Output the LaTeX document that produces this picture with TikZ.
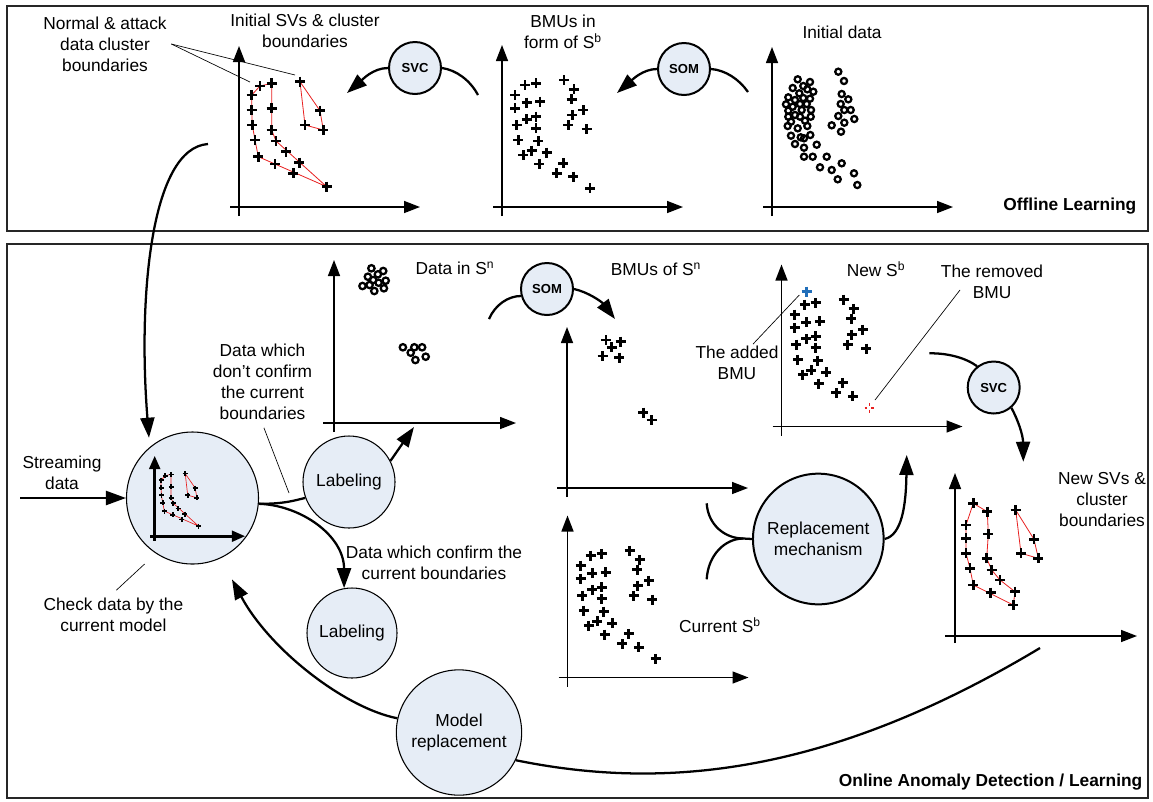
\documentclass[tikz,border=0pt]{standalone}
\usepackage{fontspec}
\setmainfont{Liberation Sans}
\usetikzlibrary{arrows.meta,positioning,calc}
\definecolor{bubble}{RGB}{230,237,246}
\definecolor{hull}{RGB}{232,32,32}
\definecolor{added}{RGB}{33,110,185}

% point sets, in pixels of the picture
\newcommand\sbpts{525/85,536/83.3,515/95,515/108.3,526.7/102.7,540/101.7,516.7/125,526.7/119.3,536/116.7,536/128.3,518.3/140,538.3/141,523.3/155,531.7/150.7,546.7/152.7,539.3/164,563.3/163.3,556.7/173.3,573.3/176.7,564/80,574/89.3,571.7/99.3,572.3/115,583.3/110,568.3/125,586.7/129}
\newcommand\svpts{251.7/95,260/86,271.7/83.3,251.7/110,252.3/125,255/140,258.3/156.7,271.7/108.3,271.7/130,276/141,286/151.7,275/164,299.3/162.7,293.3/173.3,326.7/186.7,300/81.7,320/110.7,305/125,323.3/130}
\newcommand\newsvpts{973.3/503.3,987.3/511.7,966/525,988.3/534,966/538.3,966/553.3,986.7/558.3,970/568.3,991.7/570,1000/580,973.3/585,990.7/592.7,1015/591.7,1013.3/605,1015.7/510,1034/539.3,1021/553.3,1038.3/558.3}
\newcommand\initpts{838.3/71.7,844/81,841.7/94,848.3/99.3,840.7/104,844.3/110,850.7/110,838.3/116,854.3/119,844.3/122.7,831.7/125.3,841/131.7,797.7/79.3,810/82,803.3/86,792.7/88,807.3/89.3,813.3/91.7,799.3/93.3,788.3/97.3,803.3/98,810/98.7,795/100,786/104.3,800/104,806.7/104,792.7/106.7,788.3/110.7,801.7/110,811/110,795/115,788.3/116.7,800/116.7,810.7/116.7,791/121.7,805/120.7,787.7/126,797.7/128.3,807.3/126,791/135.7,800.7/137.3,804/138.3,810.3/135,795/144,804/147.7,816.7/144.7,804/156.7,812.7/156.7,826.7/156.7,820/167.3,831.7/170,841.7/163.3,837.7/179.3,854/173.3,857.3/185}
\newcommand\snpts{371.4/268.3,383.2/271,377.9/274.3,367.9/276.7,373.2/280,385.7/280.7,378.6/282.7,362.5/286,369.6/285,383.9/288.3,374.3/291,402.9/347.3,414.3/347.3,422.1/347.3,410.7/352.7,425.7/356.7,415.4/360}

\newcommand\plusat[1]{+(-5,0) -- +(5,0) +(0,-5) -- +(0,5)}

\newcommand\svhulls{%
  \draw[hullline] (251.7,95) -- (260,86) -- (271.7,83.3) -- (271.7,108.3) -- (271.7,130) -- (276,141) -- (326.7,186.7) -- (258.3,156.7) -- (255,140) -- (252.3,125) -- (251.7,110) -- cycle;
  \draw[hullline] (300,81.7) -- (320,110.7) -- (323.3,130) -- (305,125) -- cycle;
  \foreach \x/\y in \svpts \draw[plusmark] (\x,\y) \plusat{};}

\newcommand\sbplot{%
  \draw[axis] (493,207) -- (683,207);
  \draw[axis] (502,216) -- (502,45);
  \foreach \x/\y in \sbpts \draw[plusmark] (\x,\y) \plusat{};}

\begin{document}
\begin{tikzpicture}[x=0.75pt,y=-0.75pt,font=\fontsize{13}{15.75}\selectfont,
  axis/.style={line width=1.1pt,-{Triangle[length=12pt,width=9pt]}},
  flow/.style={line width=1.7pt},
  bigtip/.style={-{Triangle[length=15pt,width=10.5pt]}},
  algo/.style={circle,draw,line width=1.5pt,fill=bubble,inner sep=0pt,minimum size=39pt,font=\bfseries\fontsize{9.8}{11}\selectfont},
  stage/.style={circle,draw,line width=0.8pt,fill=bubble,inner sep=0pt,align=center},
  caption/.style={align=center},
  heading/.style={font=\bfseries\fontsize{13}{15.75}\selectfont,anchor=east},
  plusmark/.style={line width=2pt},
  datamark/.style={line width=1.7pt},
  hullline/.style={draw=hull,line width=0.6pt},
  leader/.style={line width=0.5pt}]
\useasboundingbox (0,0) rectangle (1153,801);

\draw[line width=1pt,black!85] (7,6) rectangle (1148,231);
\draw[line width=1pt,black!85] (7,244) rectangle (1148,798);

% offline learning
\node[caption] (normtxt) at (105,44) {Normal \& attack\\data cluster\\boundaries};
\node[caption] (svtxt) at (305,31) {Initial SVs \& cluster\\boundaries};
\node[caption] (bmutxt) at (563,31.5) {BMUs in\\form of S\textsuperscript{b}};
\node[caption] (inittxt) at (842,32) {Initial data};
\node[heading] (offtxt) at (1141,206.5) {Offline Learning};

\draw[axis] (230,207) -- (420,207);
\draw[axis] (239,216) -- (239,46);
\svhulls

\sbplot
\draw[plusmark] (590,188.3) \plusat{};

\draw[axis] (763,207) -- (953,207);
\draw[axis] (772,216) -- (772,47);
\foreach \x/\y in \initpts \draw[datamark] (\x,\y) circle[radius=2.3pt];

\node[algo] (svc1) at (415,68) {SVC};
\node[algo] (som1) at (684,69) {SOM};
\coordinate (svcfrom) at (478,95);
\coordinate (svcto) at (347,93);
\coordinate (somfrom) at (748,92);
\coordinate (somto) at (617,93);
\draw[flow] (svcfrom) .. controls (470,80) and (456,70) .. (svc1.east);
\draw[flow,bigtip] (svc1.west) .. controls (373,68) and (362,80) .. (svcto);
\draw[flow] (somfrom) .. controls (739,79) and (725,70) .. (som1.east);
\draw[flow,bigtip] (som1.west) .. controls (643,69) and (632,80) .. (somto);

\draw[leader] (normtxt.east) -- (250,82);
\draw[leader] (normtxt.east) -- (295,75);

% online detection / learning
\node[stage,minimum size=99pt] (check) at (192.5,498) {};
\node[stage,minimum size=69pt] (lab1) at (349,482) {Labeling};
\node[stage,minimum size=67.5pt] (lab2) at (352,633) {Labeling};
\node[stage,minimum size=94pt] (model) at (459,732.5) {Model\\replacement};
\node[stage,minimum size=98pt,line width=1.5pt] (repl) at (818.3,539) {Replacement\\mechanism};
\node[algo] (som2) at (547,289) {SOM};
\node[algo] (svc2) at (993.7,387.5) {SVC};

\begin{scope}[shift={(35.2,432.7)},scale=0.5,plusmark/.style={line width=1.2pt},hullline/.style={draw=hull,line width=0.5pt}]
  \draw[line width=2.2pt,-{Triangle[length=10pt,width=8pt]}] (230,207) -- (420,207);
  \draw[line width=2.2pt,-{Triangle[length=10pt,width=8pt]}] (239,216) -- (239,46);
  \svhulls
\end{scope}

\node[caption] (streamtxt) at (62,473) {Streaming\\data};
\node[caption] (dontxt) at (262.5,381.5) {Data which\\don't confirm\\the current\\boundaries};
\node[caption] (datatxt) at (455,268.5) {Data in S\textsuperscript{n}};
\node[caption] (bmuntxt) at (656,269) {BMUs of S\textsuperscript{n}};
\node[caption] (newsbtxt) at (876,269.5) {New S\textsuperscript{b}};
\node[caption] (remtxt) at (992,281.7) {The removed\\BMU};
\node[caption] (addtxt) at (737,363) {The added\\BMU};
\node[caption] (newsvtxt) at (1102,500) {New SVs \&\\cluster\\boundaries};
\node[caption] (curtxt) at (720,625) {Current S\textsuperscript{b}};
\node[caption] (conftxt) at (434,563) {Data which confirm the\\current boundaries};
\node[caption] (chktxt) at (113.4,614.5) {Check data by the\\current model};
\node[heading] (ontxt) at (1147,782) {Online Anomaly Detection / Learning};

\draw[axis] (323,423) -- (516,423);
\draw[axis] (334,432) -- (334,260);
\foreach \x/\y in \snpts \draw[datamark] (\x,\y) circle[radius=2.4pt];

\draw[axis] (557,488) -- (748,488);
\draw[axis] (567,497) -- (567,327);
\foreach \x/\y in {606/340,620.7/341.7,611.7/347.3,602.7/356,619.3/357.7,643.3/412.7,651.7/420}
  \draw[plusmark] (\x,\y) \plusat{};

\begin{scope}[shift={(65.5,470.5)}]
  \sbplot
  \draw[plusmark] (590,188.3) \plusat{};
\end{scope}

\begin{scope}[shift={(279.5,219.5)}]
  \sbplot
  \draw[draw=hull,line width=1.4pt,dash pattern=on 2.2pt off 3pt] (590,188.3) \plusat{};
\end{scope}
\draw[plusmark,added] (806.7,291.7) \plusat{};

\draw[axis] (945,636) -- (1137,636);
\draw[axis] (955,643) -- (955,473);
\draw[hullline] (973.3,503.3) -- (987.3,511.7) -- (988.3,534) -- (986.7,558.3) -- (991.7,570) -- (1000,580) -- (1015,591.7) -- (1013.3,605) -- (973.3,585) -- (970,568.3) -- (966,553.3) -- (966,538.3) -- (966,525) -- cycle;
\draw[hullline] (1015.7,510) -- (1034,539.3) -- (1038.3,558.3) -- (1021,553.3) -- cycle;
\foreach \x/\y in \newsvpts \draw[plusmark] (\x,\y) \plusat{};

% connectors
\coordinate (feed) at (208,144);
\coordinate (streamin) at (20,498);
\coordinate (snin) at (414,427);
\coordinate (som2from) at (489,319);
\coordinate (som2to) at (615,319);
\coordinate (forka) at (706.7,503.3);
\coordinate (forkb) at (706.7,579.3);
\coordinate (forkj) at (743.3,538.5);
\coordinate (nsbin) at (906.7,455);
\coordinate (svc2from) at (929.3,353.3);
\coordinate (svc2to) at (1023.3,461.7);
\coordinate (svout) at (1040,648);

\draw[flow,bigtip,shorten >=7pt] (feed) .. controls (150,148) and (138,300) .. (check.130);
\draw[flow,bigtip] (streamin) -- (check.west);
\draw[flow] (check.-5) .. controls (285,504) and (296,500) .. (lab1.200);
\draw[flow,bigtip] (check.-5) .. controls (300,505) and (344,535) .. (lab2.100);
\draw[flow,bigtip] (lab1.27) -- (snin);
\draw[flow] (som2from) .. controls (495,305) and (508,296) .. (som2.195);
\draw[flow,bigtip] (som2.east) .. controls (588,292) and (602,302) .. (som2to);
\draw[flow] (forka) .. controls (708,525) and (725,538.5) .. (forkj) -- (repl.west);
\draw[flow] (forkb) .. controls (708,555) and (725,538.5) .. (forkj);
\draw[flow,bigtip] (repl.east) .. controls (902,535) and (906,505) .. (nsbin);
\draw[flow] (svc2from) .. controls (948,353) and (966,358) .. (svc2.128);
\draw[flow,bigtip] (svc2.-49) .. controls (1018,420) and (1023,435) .. (svc2to);
\draw[flow,bigtip,shorten >=18pt] (model.167) .. controls (345,708) and (270,650) .. (check.-65);
\draw[flow] (svout) .. controls (830,774) and (666,791) .. (model.-26);

\draw[leader,shorten <=3pt] (dontxt.south) -- (289,493);
\draw[leader,shorten <=3pt] (chktxt.north) -- (144.6,564);
\draw[leader] ([xshift=12pt,yshift=-2pt]addtxt.north) -- (799.3,295);
\draw[leader] (960,290) -- (875,400);

\end{tikzpicture}
\end{document}
